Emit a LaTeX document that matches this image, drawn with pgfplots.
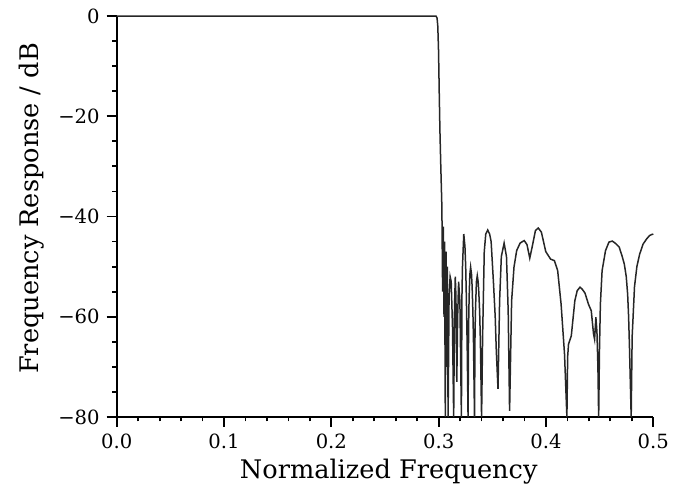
\documentclass[border=0pt]{standalone}
\usepackage{fontspec}
\setmainfont{DejaVu Serif}
\usepackage{pgfplots}
\pgfplotsset{compat=1.18}

\begin{document}
\begin{tikzpicture}
\begin{axis}[
  scale only axis, width=268.3pt, height=200.5pt,
  xmin=0, xmax=0.5, ymin=-80, ymax=0,
  axis lines=left, axis line style={-, line width=1pt},
  xtick={0,0.1,0.2,0.3,0.4,0.5},
  xticklabels={0.0,0.1,0.2,0.3,0.4,0.5},
  ytick={-80,-60,-40,-20,0},
  yticklabels={−80,−60,−40,−20,0},
  minor x tick num=4, minor y tick num=3,
  tick align=outside, major tick length=5pt, minor tick length=2.2pt,
  tick style={line width=0.9pt, black},
  tick label style={font=\fontsize{9.8}{11}\selectfont},
  xlabel={Normalized Frequency},
  ylabel={Frequency Response / dB},
  label style={font=\fontsize{12.8}{15}\selectfont},
  xlabel style={at={(axis description cs:0.507,-0.135)}, anchor=center},
  ylabel style={at={(axis description cs:-0.158,0.52)}, anchor=center},
  clip=false,
]
% magnitude response
\addplot[line width=0.75pt, color=black!85] coordinates {
  (0,0) (0.2975,0) (0.2985,-0.4) (0.2992,-2) (0.2999,-7) (0.3006,-16) (0.3012,-23) (0.3020,-30) (0.3030,-38)
  (0.3037,-55) (0.3043,-42) (0.3050,-60) (0.3055,-45) (0.3062,-80) (0.3069,-47) (0.3075,-70) (0.3081,-50)
  (0.3088,-80) (0.3097,-56) (0.3107,-52) (0.3117,-53) (0.3129,-62) (0.3140,-80) (0.3148,-58) (0.3155,-52)
  (0.3161,-56) (0.3169,-73) (0.3177,-60) (0.3186,-53) (0.3198,-57) (0.3212,-80)
  (0.3217,-56) (0.3222,-50) (0.3234,-43.5) (0.3245,-46) (0.3252,-50) (0.3258,-56) (0.3266,-66) (0.3274,-80)
  (0.3279,-62) (0.3284,-56) (0.3291,-51.5) (0.3298,-50.1) (0.3306,-51.5) (0.3312,-54) (0.3319,-59) (0.3324,-64) (0.3334,-80)
  (0.3339,-63) (0.3344,-58) (0.3352,-53) (0.3360,-51.8) (0.3368,-53) (0.3374,-55) (0.3382,-59) (0.3389,-65) (0.3400,-80)
  (0.3410,-63.5) (0.3425,-47) (0.3439,-43.5) (0.3457,-42.7) (0.3475,-43.5) (0.3489,-45) (0.3511,-53.3)
  (0.3527,-60) (0.3537,-66.7) (0.3553,-74.4)
  (0.3568,-56.8) (0.3584,-48) (0.3610,-45.3) (0.3632,-48) (0.3648,-58.9) (0.3661,-78.8)
  (0.3680,-56.8) (0.3702,-50.1) (0.3727,-46.8) (0.3759,-45.3) (0.3797,-44.8) (0.3823,-45.6) (0.3849,-48.3)
  (0.3871,-46.1) (0.3902,-42.8) (0.3928,-42.3) (0.3957,-43.1) (0.3998,-47) (0.4043,-48.5) (0.4078,-48.8)
  (0.4109,-50.8) (0.4141,-57.5) (0.4173,-67.5) (0.4195,-80)
  (0.4202,-68) (0.4210,-65.5) (0.4236,-63.8) (0.4269,-56.8) (0.4291,-54.8) (0.4317,-54.1) (0.4338,-54.5)
  (0.4364,-55.3) (0.4396,-57.5) (0.4422,-58.8) (0.4443,-63.4) (0.4453,-64.5) (0.4465,-60.1) (0.4475,-63)
  (0.4484,-70) (0.4491,-80)
  (0.4499,-66) (0.4507,-57.5) (0.4523,-50.8) (0.4555,-46.8) (0.4587,-45.1) (0.4618,-44.9) (0.4650,-45.4)
  (0.4682,-46.1) (0.4708,-47.8) (0.4730,-49.5) (0.4748,-52) (0.4761,-55.5) (0.4770,-60) (0.4778,-66) (0.4794,-80)
  (0.4803,-64) (0.4825,-54) (0.4847,-50) (0.4873,-47.5) (0.4905,-45.5) (0.4937,-44.5) (0.4965,-43.8)
  (0.4985,-43.6) (0.5,-43.5)
};
\end{axis}
\pgfresetboundingbox
\path[use as bounding box] (-58.35pt,-37.5pt) rectangle (279.15pt,208.5pt);
\end{tikzpicture}
\end{document}
